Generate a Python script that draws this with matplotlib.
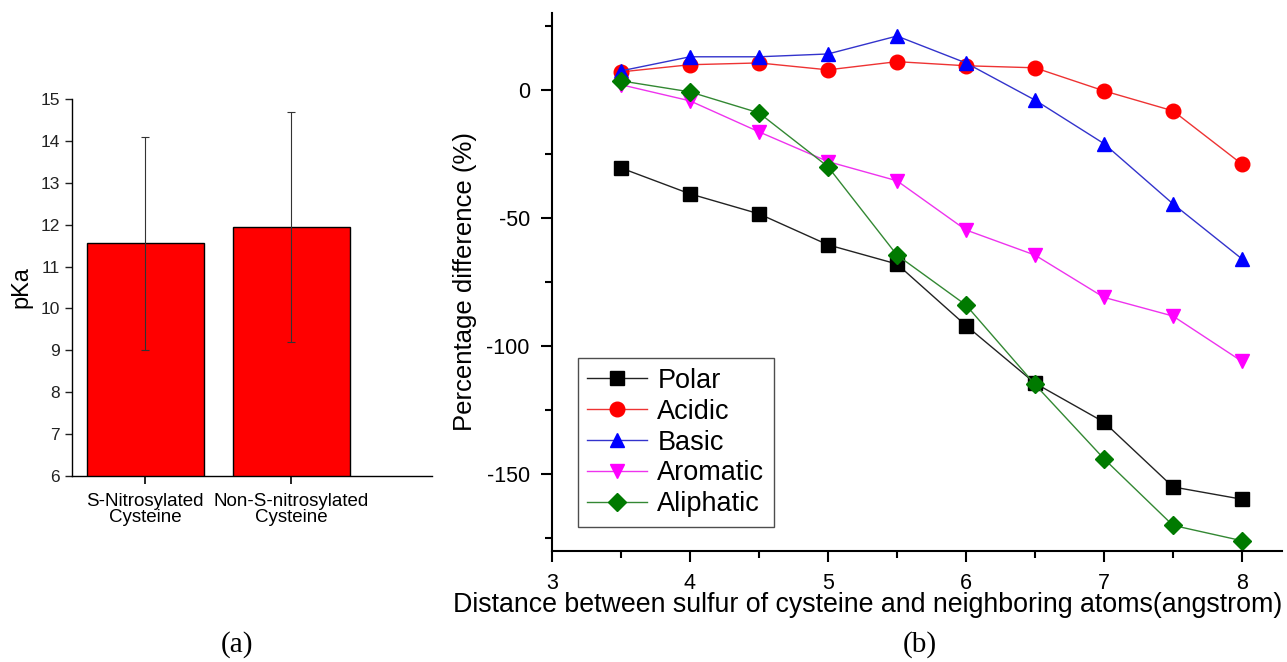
import matplotlib
matplotlib.use('Agg')
import matplotlib.pyplot as plt
import numpy as np
from matplotlib.ticker import MultipleLocator

plt.rcParams['font.family'] = ['Liberation Sans', 'DejaVu Sans']
plt.rcParams['axes.unicode_minus'] = False

# (a) pKa bars
groups = ['S-Nitrosylated\nCysteine', 'Non-S-nitrosylated\nCysteine']
pka = [11.55, 11.95]
pka_err = [2.55, 2.75]

# (b) percentage difference vs distance
dist = [3.5, 4, 4.5, 5, 5.5, 6, 6.5, 7, 7.5, 8]
polar = [-30.5, -40.6, -48.4, -60.5, -68, -92, -114.5, -129.7, -155, -159.8]
acidic = [7, 9.8, 10.5, 7.8, 11, 9.4, 8.6, -0.4, -8.2, -29]
basic = [7.4, 12.9, 12.9, 14, 21, 10.5, -4, -21, -44.5, -66]
aromatic = [2, -4.3, -16.4, -28, -35.5, -54.7, -64.5, -81, -88.3, -106]
aliphatic = [3.5, -0.8, -9, -30, -64.5, -84, -115, -144, -170, -176]

fig = plt.figure(figsize=(12.87, 6.62), dpi=100)

# ---- left panel
ax1 = fig.add_axes([0.0559, 0.281, 0.2797, 0.5695])
xpos = np.arange(len(groups))
ax1.bar(xpos, pka, width=0.8, color='#ff0000', edgecolor='black', linewidth=1)
ax1.errorbar(xpos, pka, yerr=pka_err, fmt='none', ecolor='#333333',
             elinewidth=0.8, capsize=3, capthick=0.8)
ax1.set_xlim(-0.5, 1.96)
ax1.set_ylim(6, 15)
ax1.set_yticks(range(6, 16))
ax1.set_xticks(xpos)
ax1.set_xticklabels(groups, fontsize=13.5, linespacing=0.95)
ax1.tick_params(axis='y', labelsize=12.5, direction='out', length=5, width=1, colors='#222222')
ax1.tick_params(axis='x', direction='out', length=6, width=1.2, pad=6)
ax1.set_ylabel('pKa', fontsize=17, labelpad=6)
for s in ['top', 'right']:
    ax1.spines[s].set_visible(False)
for s in ['left', 'bottom']:
    ax1.spines[s].set_linewidth(1)

# ---- right panel
ax2 = fig.add_axes([0.4289, 0.1677, 0.5672, 0.8127])
ax2.plot(dist, polar, color='#222222', lw=1, marker='s', ms=9.5, mfc='black', mec='black', label='Polar')
ax2.plot(dist, acidic, color='#ee3333', lw=1, marker='o', ms=10.5, mfc='red', mec='red', label='Acidic')
ax2.plot(dist, basic, color='#3333cc', lw=1, marker='^', ms=10.5, mfc='blue', mec='blue', label='Basic')
ax2.plot(dist, aromatic, color='#ee33ee', lw=1, marker='v', ms=10.5, mfc='magenta', mec='magenta', label='Aromatic')
ax2.plot(dist, aliphatic, color='#338833', lw=1, marker='D', ms=9, mfc='#007a00', mec='#007a00', label='Aliphatic')
ax2.set_xlim(3, 8.29)
ax2.set_ylim(-180, 30)
ax2.xaxis.set_major_locator(MultipleLocator(1))
ax2.xaxis.set_minor_locator(MultipleLocator(0.5))
ax2.yaxis.set_major_locator(MultipleLocator(50))
ax2.yaxis.set_minor_locator(MultipleLocator(25))
ax2.tick_params(which='major', labelsize=15.5, direction='out', length=8, width=1.5, pad=8)
ax2.tick_params(which='minor', direction='out', length=5, width=1.5)
ax2.set_xlabel('Distance between sulfur of cysteine and neighboring atoms(angstrom)', fontsize=19.3)
ax2.xaxis.set_label_coords(868 / 1287, 1 - 592 / 662, transform=fig.transFigure)
ax2.set_ylabel('Percentage difference (%)', fontsize=18.5, labelpad=7)
for s in ['top', 'right']:
    ax2.spines[s].set_visible(False)
for s in ['left', 'bottom']:
    ax2.spines[s].set_linewidth(1.5)
leg = ax2.legend(loc='lower left', bbox_to_anchor=(0.035, 0.045), borderaxespad=0,
                 fontsize=19.5, frameon=True, fancybox=False, edgecolor='#222222',
                 labelspacing=0.18, handlelength=2.2, borderpad=0.35, handletextpad=0.4)
leg.get_frame().set_linewidth(1)

# captions
fig.text(237 / 1287, 1 - 645 / 662, '(a)', fontsize=21, family='Liberation Serif', ha='center', va='center')
fig.text(920 / 1287, 1 - 645 / 662, '(b)', fontsize=21, family='Liberation Serif', ha='center', va='center')

fig.savefig('out.png', dpi=100)
